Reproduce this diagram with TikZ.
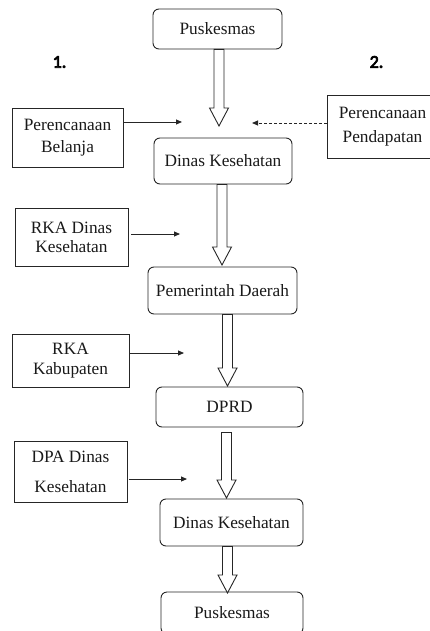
\documentclass[tikz,border=0pt]{standalone}
\usepackage{fontspec}
\setmainfont{Liberation Serif}
\newfontfamily\numfont{Carlito}[FakeBold=4]
\usetikzlibrary{arrows.meta,calc}
\begin{document}
\begin{tikzpicture}[x=1pt,y=-1pt,
  every node/.style={font=\rmfamily\fontsize{17.3}{21}\selectfont, inner sep=0pt, text=black!90},
  rbox/.style={draw=black!85, line width=0.9pt, rounded corners=6pt},
  sbox/.style={draw=black!85, line width=0.9pt, align=center},
  hollow/.style={draw=black!85, line width=0.9pt, fill=white, to path={
    let \p1=(\tikztostart), \p2=(\tikztotarget) in
    (\x1-5pt,\y1) -- (\x1+5pt,\y1) -- (\x1+5pt,\y2+18pt) -- (\x1+9.5pt,\y2+18pt)
    -- (\x1,\y2) -- (\x1-9.5pt,\y2+18pt) -- (\x1-5pt,\y2+18pt) -- cycle}},
  thin/.style={draw=black!85, line width=0.9pt, -{Triangle[length=6pt,width=5pt]}},
  numlabel/.style={font=\numfont\fontsize{18}{18}\selectfont, text=black}
]
\useasboundingbox (0,0) rectangle (430,631);
\clip (0,0) rectangle (430,631);

% main column
\node[rbox, minimum width=129pt, minimum height=40pt] (pusk1) at (217.5,29) {Puskesmas};
\node[rbox, minimum width=138pt, minimum height=46pt] (din1) at (223,161) {Dinas Kesehatan};
\node[rbox, minimum width=149pt, minimum height=47pt] (pem) at (222.5,290.5) {Pemerintah Daerah};
\node[rbox, minimum width=147pt, minimum height=40pt] (dprd) at (229.5,407) {DPRD};
\node[rbox, minimum width=143pt, minimum height=47pt] (din2) at (231.5,522.5) {Dinas Kesehatan};
\node[rbox, minimum width=142pt, minimum height=42pt] (pusk2) at (232,613) {Puskesmas};

% side boxes
\node[sbox, minimum width=111pt, minimum height=59pt, font=\rmfamily\fontsize{17.3}{22}\selectfont] (pb) at (67.5,137.5) {Perencanaan\\Belanja};
\node[sbox, minimum width=111pt, minimum height=63pt, font=\rmfamily\fontsize{17.3}{24}\selectfont] (pp) at (382.5,126.5) {Perencanaan\\Pendapatan};
\node[sbox, minimum width=113pt, minimum height=58pt, font=\rmfamily\fontsize{17.3}{19}\selectfont] (rka1) at (71.5,237) {RKA Dinas\\Kesehatan};
\node[sbox, minimum width=117pt, minimum height=53pt, font=\rmfamily\fontsize{17.3}{20}\selectfont] (rka2) at (70.5,360.5) {RKA\\Kabupaten};
\node[sbox, minimum width=113pt, minimum height=61pt, font=\rmfamily\fontsize{17.3}{30}\selectfont] (dpa) at (70.5,471.5) {DPA Dinas\\Kesehatan};

% numbers
\node[numlabel] (n1) at (59.5,62) {1.};
\node[numlabel] (n2) at (376.5,62) {2.};

% hollow arrows
\coordinate (t1) at (219,126);
\draw[hollow] (pusk1.south -| t1) to (t1);
\coordinate (t2) at (222,265);
\draw[hollow] (din1.south -| t2) to (t2);
\coordinate (t3) at (227.5,386);
\draw[hollow] (pem.south -| t3) to (t3);
\coordinate (t4) at (226.5,498);
\draw[hollow] ($(dprd.south -| t4)+(0,5)$) to (t4);
\coordinate (t5) at (227.5,593);
\draw[hollow] (din2.south -| t5) to (t5);

% thin arrows
\coordinate (e1) at (182,122);
\draw[thin] (pb.east |- e1) -- (e1);
\coordinate (e2) at (252,123);
\draw[thin, dash pattern=on 3pt off 2pt] (pp.west |- e2) -- (e2);
\coordinate (e3) at (180,234);
\draw[thin, shorten <=3pt] (rka1.east |- e3) -- (e3);
\coordinate (e4) at (184,353);
\draw[thin] (rka2.east |- e4) -- (e4);
\coordinate (e5) at (187,479);
\draw[thin, shorten <=2pt] (dpa.east |- e5) -- (e5);
\end{tikzpicture}
\end{document}
